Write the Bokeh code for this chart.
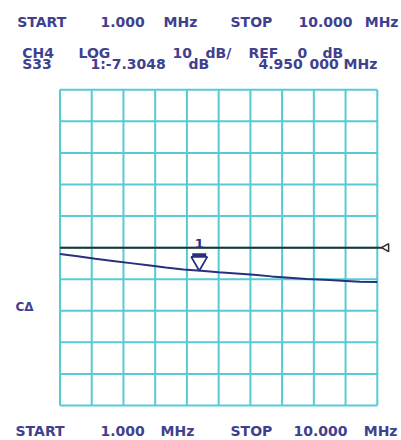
from bokeh.plotting import figure
from bokeh.models import Label, Range1d
from bokeh.embed import file_html
from bokeh.resources import INLINE
import math

# ---------------- data ----------------
START_MHZ = 1.0
STOP_MHZ = 10.0
REF_DB = 0.0
DB_PER_DIV = 10.0
N_DIV = 10

freq_mhz = [1.0, 1.5, 2.0, 2.5, 3.0, 3.5, 4.0, 4.5, 5.0, 5.5,
            6.0, 6.5, 7.0, 7.5, 8.0, 8.5, 9.0, 9.5, 10.0]
s33_db = [-2.0, -2.7, -3.5, -4.2, -4.9, -5.6, -6.3, -6.9, -7.35, -7.8,
          -8.2, -8.6, -9.1, -9.5, -9.9, -10.2, -10.5, -10.8, -10.9]

marker_freq = 4.95
marker_db = -7.3048
marker_label = "1"

top_words = ["START", "1.000", "MHz", "STOP", "10.000", "MHz"]
row2_words = ["CH4", "LOG", "10", "dB/", "REF", "0", "dB"]
row3_words = ["S33", "1:-7.3048", "dB", "4.950", "000", "MHz"]
bottom_words = ["START", "1.000", "MHz", "STOP", "10.000", "MHz"]
side_label = "C\u0394"

# ---------------- layout ----------------
W, H = 401, 440
GX0, GX1 = 59.5, 376.8   # grid left/right in px
GY0, GY1 = 89.3, 405.0   # grid top/bottom in px

GRID = "#55cbd3"
TEXT = "#40418e"
TRACE = "#27307c"
REFC = "#2e2e2e"
FONT = "DejaVu Sans"

xscale = (GX1 - GX0) / (STOP_MHZ - START_MHZ)
top_db = REF_DB + N_DIV / 2 * DB_PER_DIV
bot_db = REF_DB - N_DIV / 2 * DB_PER_DIV
yscale = (GY1 - GY0) / (top_db - bot_db)
x0 = START_MHZ - GX0 / xscale
x1 = STOP_MHZ + (W - GX1) / xscale
y1 = top_db + GY0 / yscale
y0 = bot_db - (H - GY1) / yscale


def dx(px):
    return x0 + px / xscale


def dy(py):
    return y1 - py / yscale


p = figure(width=W, height=H, x_range=Range1d(x0, x1), y_range=Range1d(y0, y1),
           output_backend="svg", toolbar_location=None, min_border=0,
           background_fill_color="white", border_fill_color="white")
p.axis.visible = False
p.xgrid.visible = False
p.ygrid.visible = False
p.outline_line_color = None

# grid
step_f = (STOP_MHZ - START_MHZ) / N_DIV
vx = [START_MHZ + i * step_f for i in range(N_DIV + 1)]
p.segment(x0=vx, y0=[bot_db] * len(vx), x1=vx, y1=[top_db] * len(vx),
          line_color=GRID, line_width=2)
hy = [bot_db + j * DB_PER_DIV for j in range(N_DIV + 1)]
p.segment(x0=[START_MHZ] * len(hy), y0=hy, x1=[STOP_MHZ] * len(hy), y1=hy,
          line_color=GRID, line_width=2)

# reference line and its marker on the right
ref_marker_x = STOP_MHZ + 9 / xscale
p.line([START_MHZ, ref_marker_x], [REF_DB, REF_DB], line_color=REFC, line_width=2)
p.scatter([ref_marker_x], [REF_DB], marker="triangle", angle=math.pi / 2,
          size=8, line_color=REFC, line_width=1.5, fill_color="white")

# trace
p.line(freq_mhz, s33_db, line_color=TRACE, line_width=2)

# marker 1
tri_size = 16
tri_h = tri_size * math.sqrt(3) / 2
p.scatter([marker_freq], [marker_db + (2 * tri_h / 3) / yscale], marker="inverted_triangle",
          size=tri_size, line_color=TRACE, line_width=1.8, fill_color=None)
p.rect([marker_freq], [marker_db + (tri_h + 2) / yscale], width=tri_size - 2, height=3,
       width_units="screen", height_units="screen", fill_color=TRACE, line_color=None)
p.add_layout(Label(x=marker_freq, y=marker_db + 27 / yscale, text=marker_label,
                   text_align="center", text_baseline="alphabetic",
                   text_font=FONT, text_font_style="bold",
                   text_font_size="13px", text_color=TRACE))


def put(words, xs, baseline, size="14px", align=None):
    for i, (w, px) in enumerate(zip(words, xs)):
        a = "left"
        if align and align[i]:
            a = align[i]
        p.add_layout(Label(x=dx(px), y=dy(baseline), text=w, text_align=a,
                           text_baseline="alphabetic", text_font=FONT,
                           text_font_style="bold", text_font_size=size,
                           text_color=TEXT))


put(top_words, [16.7, 100, 163, 230, 298, 398], 21.7,
    align=[None, None, None, None, None, "right"])
put(row2_words, [21.7, 78, 172, 205, 248, 297, 322], 52)
put(row3_words, [21.7, 90, 188, 258, 309, 343], 63.5)
put(bottom_words, [15, 100, 160, 230, 293, 397], 430,
    align=[None, None, None, None, None, "right"])
p.add_layout(Label(x=dx(15), y=dy(306.5), text=side_label, text_align="left",
                   text_baseline="alphabetic", text_font=FONT,
                   text_font_style="bold", text_font_size="12px", text_color=TEXT))

open("out.html", "w").write(file_html(p, INLINE))
